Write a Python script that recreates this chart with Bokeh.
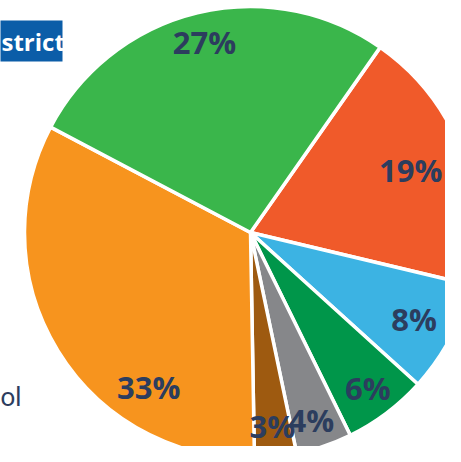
import math
from bokeh.plotting import figure
from bokeh.models import Range1d, ColumnDataSource
from bokeh.core.properties import value
from bokeh.embed import file_html
from bokeh.resources import INLINE

# ---- data ----
categories = ["Cat A", "Cat B", "Cat C", "Cat D", "Cat E", "Cat F", "Cat G"]
shares = [19, 8, 6, 4, 3, 33, 27]
labels = ["19%", "8%", "6%", "4%", "3%", "33%", "27%"]
colors = ["#F05A2A", "#3CB3E3", "#00964A", "#86878A", "#9E5A10", "#F7941E", "#3AB64B"]
title_text = "strict"
legend_text = "ol"

# ---- layout ----
W, H = 445, 446
FULL_H = 462
CX, CY, R = 250, FULL_H - 232, 226
START_DEG = 55.0
label_r = [172, 185, 195, 197, 195, 185, 196]
label_shift_deg = [0.5, 0, 0, -1, 0, 25, 0]
NAVY = "#2C3D5E"

p = figure(width=W, height=H, x_range=Range1d(0, W), y_range=Range1d(FULL_H - H, FULL_H),
           output_backend="svg", toolbar_location=None, min_border=0)
p.axis.visible = False
p.grid.visible = False
p.outline_line_color = None
p.background_fill_color = "white"
p.border_fill_color = "white"

total = float(sum(shares))
starts, ends, lx, ly = [], [], [], []
cur = START_DEG
for i, v in enumerate(shares):
    span = v / total * 360.0
    s, e = cur - span, cur
    starts.append(math.radians(s))
    ends.append(math.radians(e))
    mid = math.radians((s + e) / 2 + label_shift_deg[i])
    lx.append(CX + label_r[i] * math.cos(mid))
    ly.append(CY + label_r[i] * math.sin(mid))
    cur = s

src = ColumnDataSource(dict(cat=categories, start=starts, end=ends, color=colors,
                            lx=lx, ly=ly, label=labels))
p.wedge(x=CX, y=CY, radius=R, start_angle="start", end_angle="end",
        fill_color="color", line_color="white", line_width=3.5, source=src)
p.text(x="lx", y="ly", text="label", source=src, text_align="center",
       text_baseline="middle", text_color=NAVY, text_font=value("Open Sans"),
       text_font_style="bold", text_font_size="31px")

# title box (cut off at the left, as in the source)
p.quad(left=-200, right=62, top=FULL_H - 20, bottom=FULL_H - 61, fill_color="#0B5DA8", line_color=None)
p.text(x=[1], y=[FULL_H - 41], text=[title_text], text_align="left", text_baseline="middle",
       text_color="white", text_font=value("Open Sans"), text_font_style="bold",
       text_font_size="24px")

# legend text fragment at the left edge
p.text(x=[0], y=[FULL_H - 395], text=[legend_text], text_align="left",
       text_baseline="alphabetic", text_color=NAVY, text_font=value("Lato"),
       text_font_size="26px")

open("out.html", "w").write(file_html(p, INLINE))
